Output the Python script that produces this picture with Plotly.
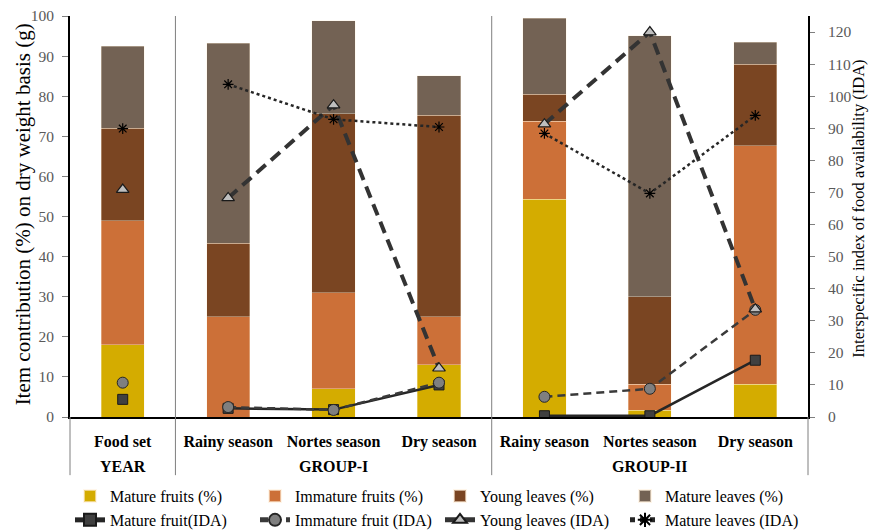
import plotly.graph_objects as go

# ---- data ----
categories = ["Food set", "Rainy season", "Nortes season", "Dry season",
              "Rainy season", "Nortes season", "Dry season"]
groups = ["YEAR", "GROUP-I", "GROUP-II"]
group_members = [[0], [1, 2, 3], [4, 5, 6]]

mature_fruits_pct = [18.0, 0.0, 7.0, 13.0, 54.3, 1.7, 8.2]
immature_fruits_pct = [31.0, 25.0, 24.0, 12.0, 19.4, 6.5, 59.5]
young_leaves_pct = [23.0, 18.3, 44.6, 50.3, 6.8, 21.8, 20.3]
mature_leaves_pct = [20.5, 49.9, 23.2, 9.8, 18.9, 65.1, 5.4]

mature_fruit_ida = [5.5, 2.7, 2.3, 10.0, 0.4, 0.4, 17.7]
immature_fruit_ida = [10.7, 3.1, 2.2, 10.7, 6.3, 8.8, 33.4]
young_leaves_ida = [70.9, 68.3, 97.2, 15.2, 91.3, 120.0, 33.6]
mature_leaves_ida = [89.9, 103.7, 92.8, 90.4, 88.4, 69.7, 94.0]

left_ticks = list(range(0, 101, 10))
right_ticks = list(range(0, 121, 10))

left_title = "Item contribution (%) on dry weight basis (g)"
right_title = "Interspecific index of food availability (IDA)"

xs = list(range(len(categories)))

FONT = "Liberation Serif, Times New Roman, serif"

fig = go.Figure()

bar_series = [
    ("Mature fruits (%)", mature_fruits_pct, "#D4AC00"),
    ("Immature fruits (%)", immature_fruits_pct, "#CC7038"),
    ("Young leaves (%)", young_leaves_pct, "#7A4522"),
    ("Mature leaves (%)", mature_leaves_pct, "#736254"),
]
for name, vals, col in bar_series:
    fig.add_trace(go.Bar(
        x=xs, y=vals, name=name,
        marker=dict(color=col, line=dict(color="rgba(255,240,220,0.6)", width=0.6)),
        yaxis="y",
    ))


def gapped(vals):
    gx, gy = [], []
    for gi, mem in enumerate(group_members):
        if gi > 0:
            gx.append(None)
            gy.append(None)
        for i in mem:
            gx.append(xs[i])
            gy.append(vals[i])
    return gx, gy


line_series = [
    ("Mature fruit(IDA)", mature_fruit_ida, dict(color="#262626", width=2.5, dash="solid"),
     dict(symbol="square", size=10, color="#404040", line=dict(color="#1a1a1a", width=1))),
    ("Immature fruit (IDA)", immature_fruit_ida, dict(color="#3a3a3a", width=2.5, dash="8px,5px"),
     dict(symbol="circle", size=11, color="#7f7f7f", line=dict(color="#262626", width=1))),
    ("Young leaves (IDA)", young_leaves_ida, dict(color="#333333", width=4, dash="12px,7px"),
     dict(symbol="triangle-up", size=11, color="#bfbfbf", line=dict(color="#1a1a1a", width=1.2))),
    ("Mature leaves (IDA)", mature_leaves_ida, dict(color="#262626", width=2.5, dash="dot"),
     dict(symbol="asterisk-open", size=9, color="#000000", line=dict(color="#000000", width=1.2))),
]
for name, vals, ln, mk in line_series:
    gx, gy = gapped(vals)
    fig.add_trace(go.Scatter(
        x=gx, y=gy, name=name, mode="lines+markers", line=ln, marker=mk,
        yaxis="y2", connectgaps=False,
    ))

# divider lines
shapes = []
for b in [0.5, 3.5]:
    shapes.append(dict(type="line", xref="x", yref="paper", x0=b, x1=b, y0=1.0, y1=-0.145,
                       line=dict(color="#7f7f7f", width=1)))
for px in [0, 1]:
    shapes.append(dict(type="line", xref="paper", yref="paper", x0=px, x1=px, y0=0, y1=-0.145,
                       line=dict(color="#7f7f7f", width=1)))

annotations = []
for gname, mem in zip(groups, group_members):
    cx = sum(xs[i] for i in mem) / len(mem)
    annotations.append(dict(x=cx, xref="x", y=-0.124, yref="paper", text="<b>%s</b>" % gname,
                            showarrow=False, font=dict(family=FONT, size=16, color="#000000"),
                            xanchor="center", yanchor="middle"))
annotations.append(dict(x=-0.0625, xref="paper", y=0.505, yref="paper", text=left_title,
                        textangle=-90, showarrow=False,
                        font=dict(family=FONT, size=21, color="#000000"),
                        xanchor="center", yanchor="middle"))
annotations.append(dict(x=1.068, xref="paper", y=0.52, yref="paper", text=right_title,
                        textangle=-90, showarrow=False,
                        font=dict(family=FONT, size=16.5, color="#000000"),
                        xanchor="center", yanchor="middle"))

fig.update_layout(
    width=870, height=531,
    margin=dict(l=70, r=62, t=16, b=114, autoexpand=False),
    paper_bgcolor="white", plot_bgcolor="white",
    barmode="stack", bargap=0.59,
    font=dict(family=FONT, size=16, color="#000000"),
    xaxis=dict(
        range=[-0.5, len(categories) - 0.5],
        tickmode="array", tickvals=xs, ticktext=["<b>%s</b>" % c for c in categories],
        tickfont=dict(family=FONT, size=16, color="#000000"),
        showline=True, linecolor="#000000", linewidth=2,
        ticks="", showgrid=False, zeroline=False, ticklabelstandoff=9,
        automargin=False,
    ),
    yaxis=dict(
        range=[0, 100], tickmode="array", tickvals=left_ticks,
        tickfont=dict(family=FONT, size=15.5, color="#595959"),
        showline=True, linecolor="#000000", linewidth=2,
        ticks="outside", ticklen=6, tickcolor="#7f7f7f", ticklabelstandoff=5,
        showgrid=False, zeroline=False, automargin=False,
    ),
    yaxis2=dict(
        range=[0, 125], tickmode="array", tickvals=right_ticks,
        overlaying="y", side="right",
        tickfont=dict(family=FONT, size=15.5, color="#595959"),
        showline=True, linecolor="#000000", linewidth=2,
        ticks="outside", ticklen=5, tickcolor="#7f7f7f", ticklabelstandoff=10,
        showgrid=False, zeroline=False, automargin=False,
    ),
    legend=dict(
        orientation="h", x=0, xanchor="left", y=-0.155, yanchor="top",
        entrywidth=140, entrywidthmode="pixels", traceorder="normal",
        font=dict(family=FONT, size=16, color="#000000"),
        tracegroupgap=0, itemsizing="constant",
    ),
    shapes=shapes, annotations=annotations,
    showlegend=True,
)

fig.write_html("out.html", config={"displayModeBar": False},
               post_script="document.body.style.margin='0px';")
